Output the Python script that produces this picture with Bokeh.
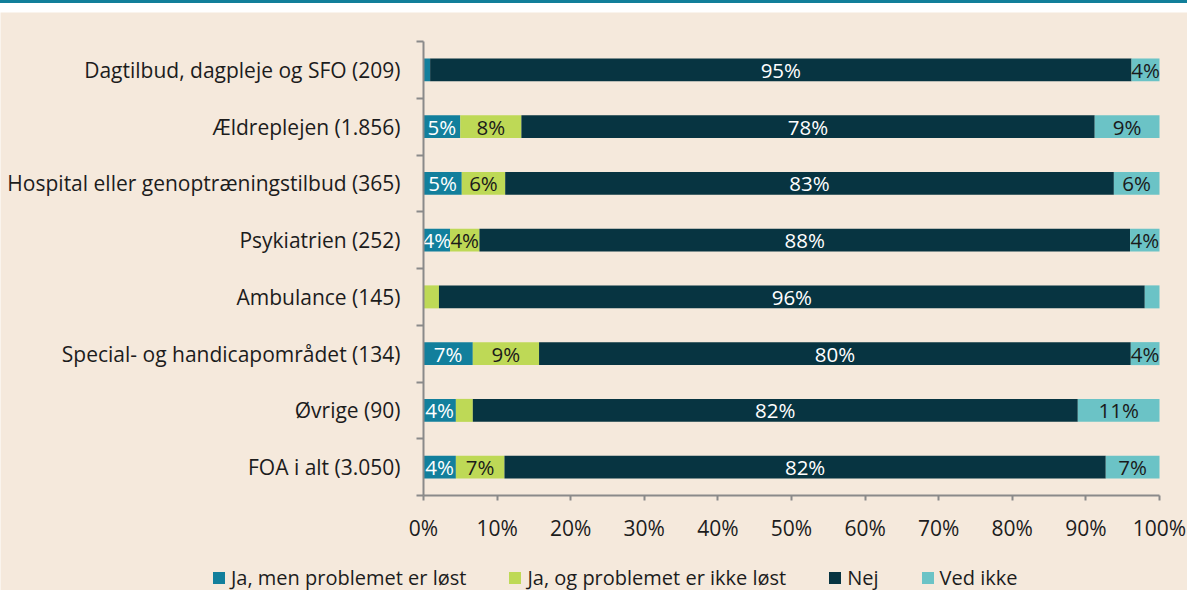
from bokeh.plotting import figure
from bokeh.models import (ColumnDataSource, Range1d, FixedTicker, PrintfTickFormatter, Div,
                          LinearAxis)
from bokeh.layouts import column
from bokeh.core.properties import value
from bokeh.embed import file_html
from bokeh.resources import INLINE

categories = [
    "Dagtilbud, dagpleje og SFO (209)",
    "Ældreplejen (1.856)",
    "Hospital eller genoptræningstilbud (365)",
    "Psykiatrien (252)",
    "Ambulance (145)",
    "Special- og handicapområdet (134)",
    "Øvrige (90)",
    "FOA i alt (3.050)",
]
series_names = ["Ja, men problemet er løst", "Ja, og problemet er ikke løst", "Nej", "Ved ikke"]
ja_loest = [0.9, 5.0, 5.2, 3.6, 0.0, 6.7, 4.4, 4.4]
ja_ikke_loest = [0.0, 8.3, 5.9, 4.0, 2.1, 9.0, 2.3, 6.6]
nej = [95.3, 77.9, 82.7, 88.4, 95.9, 80.4, 82.2, 81.7]
ved_ikke = [3.8, 8.8, 6.2, 4.0, 2.0, 3.9, 11.1, 7.3]
x_ticks = [0, 10, 20, 30, 40, 50, 60, 70, 80, 90, 100]

colors = ["#127f9c", "#bed956", "#073441", "#6bc3c6"]
label_colors = ["#ffffff", "#1a1a1a", "#ffffff", "#1a1a1a"]
FONT = "Open Sans"
TEXT = "#1c1c1c"
AXIS = "#8a8a8a"
BG = "#f5e9dc"

n = len(categories)
ypos = [n - 1 - i for i in range(n)]
series = [ja_loest, ja_ikke_loest, nej, ved_ikke]
keys = ["s0", "s1", "s2", "s3"]
src = ColumnDataSource(dict(y=ypos, s0=ja_loest, s1=ja_ikke_loest, s2=nej, s3=ved_ikke))

# layout geometry (pixels): frame covers the whole figure; plot area mapped via ranges
W, H = 1187, 578
x0_px, x1_px = 423, 1159          # 0% and 100%
ytop_px, ybot_px = 29, 483        # top of category band, x-axis line
xs = (x1_px - x0_px) / 100.0
ys = (ybot_px - ytop_px) / n
x_range = Range1d(-x0_px / xs, 100 + (W - x1_px) / xs)
y_range = Range1d(-0.5 - (H - ybot_px) / ys, n - 0.5 + ytop_px / ys)

p = figure(width=W, height=H, output_backend="svg", toolbar_location=None,
           x_range=x_range, y_range=y_range,
           x_axis_location=None, y_axis_location=None,
           min_border_left=0, min_border_right=0, min_border_top=0, min_border_bottom=0)
p.background_fill_color = BG
p.border_fill_color = BG
p.outline_line_color = None
p.grid.visible = False

p.hbar_stack(keys, y="y", height=0.405, color=colors, line_color=None, source=src,
             legend_label=series_names)

# segment labels
lx, ly, lt, lc = [], [], [], []
for r in range(n):
    left = 0.0
    for k in range(4):
        v = series[k][r]
        if v >= 3:
            lx.append(left + v / 2)
            ly.append(ypos[r])
            lt.append(f"{round(v)}%")
            lc.append(label_colors[k])
        left += v
lsrc = ColumnDataSource(dict(x=lx, y=ly, t=lt, c=lc))
p.text(x="x", y="y", text="t", text_color="c", source=lsrc, text_align="center",
       text_baseline="middle", text_font=value(FONT), text_font_size="20.5px")

# x axis
xa = LinearAxis(fixed_location=-0.5, bounds=(0, 100))
xa.ticker = FixedTicker(ticks=x_ticks)
xa.formatter = PrintfTickFormatter(format="%d%%")
xa.axis_line_color = AXIS
xa.axis_line_width = 2
xa.major_tick_line_color = AXIS
xa.major_tick_line_width = 2
xa.major_tick_out = 5
xa.major_tick_in = 0
xa.minor_tick_line_color = None
xa.major_label_text_font = FONT
xa.major_label_text_font_size = "21px"
xa.major_label_text_color = TEXT
xa.major_label_standoff = 13
p.add_layout(xa, "below")

# y axis
ya = LinearAxis(fixed_location=0, bounds=(-0.5, n - 0.5))
ya.ticker = FixedTicker(ticks=ypos, minor_ticks=[y - 0.5 for y in range(n + 1)])
ya.major_label_overrides = {ypos[i]: categories[i] for i in range(n)}
ya.axis_line_color = AXIS
ya.axis_line_width = 2
ya.major_tick_line_color = None
ya.major_tick_out = 0
ya.major_tick_in = 0
ya.minor_tick_line_color = AXIS
ya.minor_tick_line_width = 2
ya.minor_tick_out = 7
ya.minor_tick_in = 0
ya.major_label_text_font = FONT
ya.major_label_text_font_size = "21px"
ya.major_label_text_color = TEXT
ya.major_label_standoff = 16
p.add_layout(ya, "left")

leg = p.legend[0]
leg.orientation = "horizontal"
leg.location = (211, -1)
leg.glyph_width = 15
leg.glyph_height = 15
leg.label_standoff = 5
leg.spacing = 41
leg.padding = 0
leg.margin = 0
leg.background_fill_alpha = 0
leg.border_line_color = None
leg.label_text_font = FONT
leg.label_text_font_size = "20px"
leg.label_text_color = TEXT

top = Div(text="", width=W, height=12, margin=0,
          styles={"background": "linear-gradient(to bottom, #117f9a 0px, #117f9a 3px, #ffffff 3px, #ffffff 12px)"})
layout = column(top, p, spacing=0)

open("out.html", "w").write(file_html(layout, INLINE))
